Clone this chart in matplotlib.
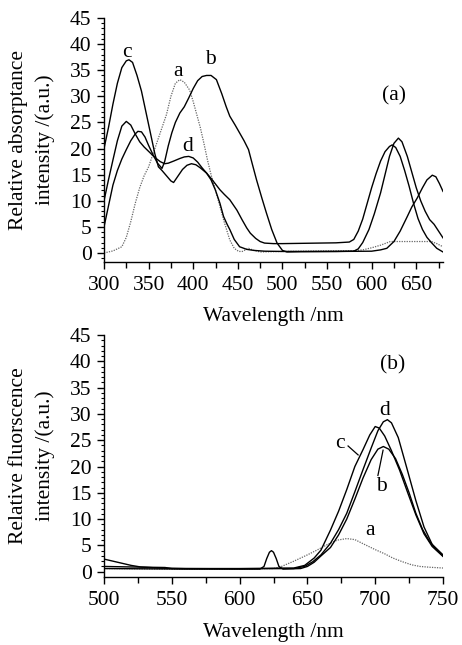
import matplotlib
matplotlib.use("Agg")
import matplotlib.pyplot as plt
from matplotlib.ticker import MultipleLocator

plt.rcParams['font.family'] = ['Liberation Serif', 'DejaVu Serif']
FS = 15.5
plt.rcParams['font.size'] = FS

# ---------------- Panel (a): absorptance ----------------
abs_a_x = [300, 310, 320, 325, 330, 335, 340, 345, 350, 355, 360, 365, 370, 375, 380, 385, 390,
           396, 400, 404, 408, 412, 416, 420, 425, 430, 435, 441, 446, 451, 455, 462, 468, 475,
           500, 540, 580, 590, 600, 610, 621, 640, 660, 667, 673, 680]
abs_a_y = [0, 0.4, 1.2, 3.0, 6.0, 9.5, 12.5, 14.8, 16.5, 19, 21.5, 24, 26.5, 30, 32.5, 33.2, 32.7,
           31.2, 29, 26.5, 24, 21, 17.8, 15, 12, 8.9, 5.8, 2.5, 0.9, 0.3, 0.3, 0.9, 0.5, 0.2,
           0.3, 0.4, 0.45, 0.6, 1.0, 1.5, 2.2, 2.2, 2.2, 2.2, 1.8, 1.2]

abs_b_x = [300, 305, 310, 315, 320, 325, 330, 335, 338, 342, 346, 350, 355, 360, 365, 368, 372,
           376, 380, 385, 390, 395, 400, 405, 410, 415, 420, 426, 432, 437, 441, 447, 452, 457,
           462, 466, 471, 477, 482, 488, 494, 500, 505, 520, 560, 580, 585, 590, 597, 603, 610,
           615, 620, 625, 630, 634, 640, 645, 650, 655, 660, 665, 670, 675, 680]
abs_b_y = [5, 9, 13, 15.8, 18, 19.8, 21.5, 22.8, 23.3, 23.2, 22.2, 20.6, 18.8, 17.2, 16.2, 17.5,
           20.5, 23, 25, 26.8, 28, 29.7, 31.5, 33, 33.8, 34, 34, 33.2, 30.5, 28, 26.2, 24.5, 23,
           21.5, 19.8, 17.2, 14, 10.5, 7.7, 4.5, 1.9, 0.5, 0.2, 0.25, 0.3, 0.35, 0.8, 2, 4.5, 7.5,
           11.5, 15, 18.5, 21, 22, 21.3, 18.5, 15.5, 12.5, 10, 8, 6.4, 5.5, 4.2, 2.9]

abs_c_x = [300, 305, 310, 315, 320, 325, 328, 332, 337, 342, 347, 352, 357, 361, 365, 370, 375,
           378, 382, 388, 393, 398, 403, 408, 415, 420, 425, 430, 434, 438, 441, 446, 452, 460,
           468, 480, 500, 520, 560, 600, 610, 617, 625, 632, 640, 645, 651, 657, 662, 668, 672,
           676, 680]
abs_c_y = [20, 24, 28.5, 32.5, 35.5, 36.8, 37, 36.5, 34, 31, 27, 23, 19, 16.5, 15.8, 14.8, 13.8,
           13.5, 14.5, 16, 16.8, 17.1, 16.9, 16.3, 15.3, 14.0, 12.0, 9.5, 7, 5.5, 4.5, 2.6, 1.2,
           0.7, 0.5, 0.35, 0.3, 0.3, 0.3, 0.35, 0.6, 0.9, 2.2, 4.2, 7, 8.8, 10.5, 12.5, 14, 14.9,
           14.6, 13.3, 11.8]

abs_d_x = [300, 305, 310, 315, 320, 325, 330, 335, 340, 345, 351, 357, 363, 368, 372, 378, 385,
           390, 395, 400, 405, 410, 415, 420, 425, 430, 435, 441, 445, 449, 455, 460, 464, 470,
           475, 480, 490, 500, 520, 540, 560, 575, 580, 585, 590, 595, 600, 605, 610, 615, 620,
           623, 627, 632, 637, 642, 647, 652, 657, 662, 667, 673, 680]
abs_d_y = [10, 14, 17.8, 21.5, 24.3, 25.2, 24.5, 22.8, 21.3, 20.3, 19.3, 18.3, 17.5, 17.1, 17.2,
           17.6, 18.1, 18.4, 18.5, 18.2, 17.4, 16.3, 15.3, 14.3, 13.2, 12.1, 11.2, 10.2, 9.2, 8.2,
           6.3, 4.8, 3.8, 2.8, 2.2, 1.9, 1.8, 1.8, 1.85, 1.9, 1.95, 2.1, 2.6, 4.2, 6.5, 9.5, 12.5,
           15.2, 17.6, 19.4, 20.4, 20.7, 20.2, 18.5, 15.8, 12.8, 9.5, 6.6, 4.5, 3.0, 2.0, 0.9, 0.2]

# ---------------- Panel (b): fluorescence ----------------
fl_a_x = [500, 550, 600, 625, 630, 640, 650, 657, 665, 672, 679, 685, 692, 700, 707, 713, 720,
          727, 733, 740, 750]
fl_a_y = [0.6, 0.5, 0.5, 0.6, 0.9, 2.0, 3.2, 4.1, 5.2, 6.0, 6.3, 6.1, 5.2, 4.2, 3.4, 2.6, 1.9,
          1.3, 1.0, 0.85, 0.7]

fl_b_x = [500, 560, 600, 615, 618, 620, 622, 623.5, 625, 627, 629, 632, 645, 650, 655, 660, 667,
          673, 679, 685, 691, 697, 702, 706, 710, 715, 720, 725, 730, 735, 740, 745, 750]
fl_b_y = [0.6, 0.5, 0.5, 0.5, 1.0, 2.5, 3.7, 4.0, 3.7, 2.5, 1.0, 0.5, 0.6, 1.0, 1.8, 3.0, 4.6,
          7.0, 10, 13.8, 17.8, 21.3, 23.3, 23.8, 23.3, 21.5, 18.5, 15, 11.1, 8, 5.8, 4.2, 3.0]

fl_c_x = [500, 510, 520, 527, 540, 560, 600, 640, 648, 655, 660, 667, 673, 679, 685, 691, 696,
          700, 703, 707, 712, 718, 724, 730, 736, 742, 750]
fl_c_y = [2.4, 1.8, 1.2, 0.9, 0.7, 0.6, 0.6, 0.7, 1.2, 2.6, 4.1, 7.9, 11.5, 15.6, 20, 23.2, 26,
          27.6, 27.3, 25.8, 23, 19.3, 15, 10.8, 7.2, 4.8, 2.9]

fl_d_x = [500, 520, 545, 550, 600, 640, 648, 654, 660, 667, 673, 679, 685, 691, 697, 702, 706,
          709, 712, 717, 723, 730, 736, 742, 750]
fl_d_y = [1.0, 0.9, 0.8, 0.6, 0.55, 0.6, 1.0, 1.9, 3.2, 5.4, 8.0, 11.1, 15.2, 19.4, 23.5, 26.8,
          28.5, 28.9, 28.3, 25.5, 20, 13.5, 8.5, 5.2, 3.2]

top_xticks = [300, 350, 400, 450, 500, 550, 600, 650]
bot_xticks = [500, 550, 600, 650, 700, 750]
yticks = [0, 5, 10, 15, 20, 25, 30, 35, 40, 45]

fig = plt.figure(figsize=(4.62, 6.45), dpi=100)
W, H = 462, 645


def make_axes(top_px, bottom_px):
    return fig.add_axes([104 / W, 1 - bottom_px / H, (443 - 104) / W, (bottom_px - top_px) / H])


solid = dict(color='black', lw=1.0)
dotted = dict(color='#666666', lw=0.9, ls=(0, (1, 1)))


def style(ax):
    for s in ['top', 'right']:
        ax.spines[s].set_visible(False)
    ax.spines['left'].set_linewidth(1.0)
    ax.spines['bottom'].set_linewidth(1.0)
    ax.set_yticks(yticks)
    ax.yaxis.set_minor_locator(MultipleLocator(1))
    ax.tick_params(axis='both', which='major', direction='out', length=5, width=1.0,
                   labelsize=FS)
    ax.tick_params(axis='x', which='major', pad=5)
    ax.tick_params(axis='y', which='major', pad=4)
    ax.tick_params(axis='y', which='minor', direction='out', length=2.5, width=0.8)
    ax.tick_params(axis='x', which='minor', direction='out', length=4, width=1.0)


# Top panel
ax1 = make_axes(18, 262)
ax1.plot(abs_a_x, abs_a_y, **dotted)
ax1.plot(abs_b_x, abs_b_y, **solid)
ax1.plot(abs_c_x, abs_c_y, **solid)
ax1.plot(abs_d_x, abs_d_y, **solid)
ax1.set_xlim(300, 680)
ax1.set_ylim(-1.72, 45)
style(ax1)
ax1.set_xticks(top_xticks)
ax1.xaxis.set_minor_locator(MultipleLocator(25))
ax1.set_xlabel('Wavelength /nm', fontsize=FS, labelpad=9)
ax1.text(325.5, 38.3, 'c', fontsize=FS, ha='center', va='center')
ax1.text(383.5, 34.7, 'a', fontsize=FS, ha='center', va='center')
ax1.text(419, 37.0, 'b', fontsize=FS, ha='center', va='center')
ax1.text(393.5, 20.4, 'd', fontsize=FS, ha='center', va='center')
ax1.text(625, 30.0, '(a)', fontsize=FS, ha='center', va='center')
fig.text(32 / W, 1 - 140 / H, 'Relative absorptance\nintensity /(a.u.)', rotation=90,
         ha='center', va='center', multialignment='center', fontsize=FS, linespacing=1.45)

# Bottom panel
ax2 = make_axes(335, 576.7)
ax2.plot(fl_a_x, fl_a_y, **dotted)
ax2.plot(fl_b_x, fl_b_y, **solid)
ax2.plot(fl_c_x, fl_c_y, **solid)
ax2.plot(fl_d_x, fl_d_y, **solid)
ax2.set_xlim(500, 750)
ax2.set_ylim(-0.95, 45)
style(ax2)
ax2.set_xticks(bot_xticks)
ax2.xaxis.set_minor_locator(MultipleLocator(25))
ax2.set_xlabel('Wavelength /nm', fontsize=FS, labelpad=10)
ax2.text(713, 39.3, '(b)', fontsize=FS, ha='center', va='center')
ax2.text(707, 30.7, 'd', fontsize=FS, ha='center', va='center')
ax2.text(674, 24.4, 'c', fontsize=FS, ha='center', va='center')
ax2.plot([680, 687.4], [23.9, 22.2], color='black', lw=0.9)
ax2.text(704.6, 16.2, 'b', fontsize=FS, ha='center', va='center')
ax2.plot([702, 705.8], [18.3, 23.1], color='black', lw=0.9)
ax2.text(696, 7.9, 'a', fontsize=FS, ha='center', va='center')
fig.text(32 / W, 1 - 456 / H, 'Relative fluorscence\nintensity /(a.u.)', rotation=90,
         ha='center', va='center', multialignment='center', fontsize=FS, linespacing=1.45)

fig.savefig('out.png', dpi=100)
